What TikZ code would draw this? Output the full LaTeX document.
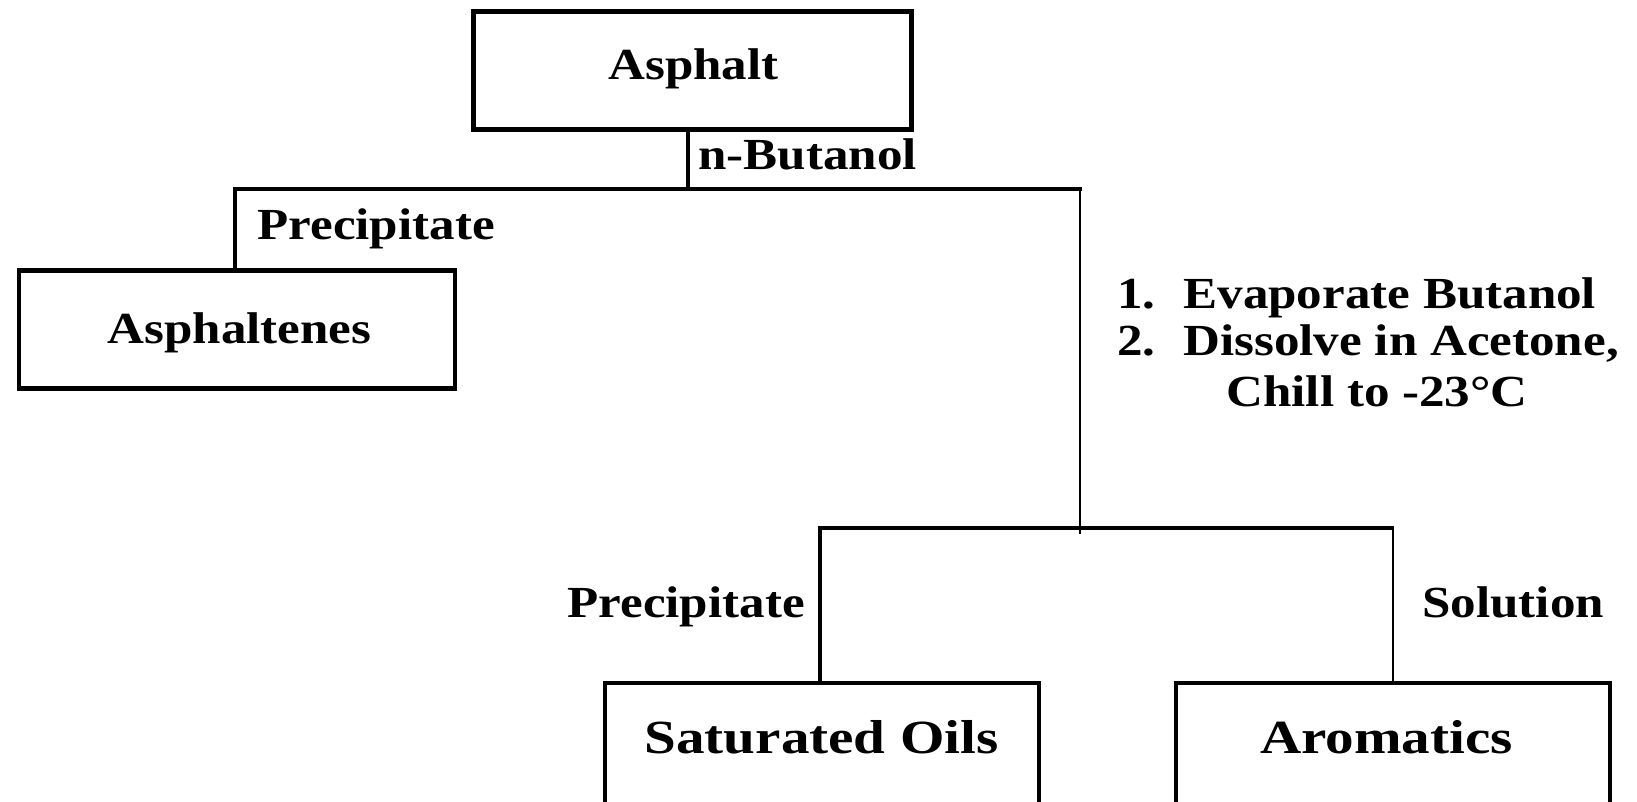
\documentclass[tikz,border=0pt]{standalone}
\usepackage{fontspec}
\setmainfont{Liberation Serif}
\newfontfamily\lblfont[FakeStretch=1.15]{Liberation Serif}
\newfontfamily\biglblfont[FakeStretch=1.2]{Liberation Serif}
\begin{document}
\begin{tikzpicture}[x=0.5pt,y=-0.5pt,
  box/.style={draw=black, line width=2.4pt, rectangle, inner sep=0pt},
  wire/.style={draw=black, line width=2.2pt},
  thinwire/.style={draw=black, line width=1.1pt},
  lbl/.style={inner sep=0pt, font=\lblfont\fontsize{22.2}{26}\selectfont\bfseries},
  biglbl/.style={inner sep=0pt, font=\biglblfont\fontsize{23.8}{28}\selectfont\bfseries}]
\useasboundingbox (0,0) rectangle (1637,802);
\clip (0,0) rectangle (1637,802);

% boxes (sizes in pt: one picture unit is half a point)
\node[box, minimum width=219pt, minimum height=59pt] (asphalt) at (692.5,70.5) {};
\node[box, minimum width=218pt, minimum height=59pt] (asphaltenes) at (237,329.5) {};
\node[box, minimum width=217pt, minimum height=65pt] (saturated) at (822,748) {};
\node[box, minimum width=217pt, minimum height=65pt] (aromatics) at (1393,748) {};

% box texts
\node[lbl, anchor=base] (t-asphalt) at (693.5,80) {Asphalt};
\node[lbl, anchor=base] (t-asphaltenes) at (239.5,343) {Asphaltenes};
\node[biglbl, anchor=base] (t-saturated) at (821.5,753) {Saturated Oils};
\node[biglbl, anchor=base] (t-aromatics) at (1386.5,753) {Aromatics};

% junction points
\coordinate (j-top) at (688,189);
\coordinate (j-left) at (235,189);
\coordinate (j-right) at (1080,189);
\coordinate (j-mid) at (1080,528);
\coordinate (j-sat) at (820,528);
\coordinate (j-aro) at (1393,528);

% connectors
\draw[wire] (asphalt.south -| j-top) -- (j-top);
\draw[wire] ([xshift=-1.1pt]j-left) -- ([xshift=1.1pt]j-right);
\draw[wire] (j-left) -- (asphaltenes.north -| j-left);
\draw[thinwire] (j-right) -- ([yshift=-3pt]j-mid);
\draw[wire] ([xshift=-1.1pt]j-sat) -- ([xshift=0.5pt]j-aro);
\draw[wire] (j-sat) -- (saturated.north -| j-sat);
\draw[thinwire] (j-aro) -- (aromatics.north);

% connector labels
\node[lbl, anchor=base west] (l-butanol) at (698,170) {n-Butanol};
\node[lbl, anchor=base west] (l-prec1) at (257,240) {Precipitate};
\node[lbl, anchor=base west] (l-prec2) at (567,617) {Precipitate};
\node[lbl, anchor=base west] (l-sol) at (1422,617) {Solution};

% processing steps
\node[lbl, anchor=base west] (s1n) at (1117,308) {1.};
\node[lbl, anchor=base west] (s1) at (1183,308) {Evaporate Butanol};
\node[lbl, anchor=base west] (s2n) at (1117,355) {2.};
\node[lbl, anchor=base west] (s2) at (1183,355) {Dissolve in Acetone,};
\node[lbl, anchor=base west] (s3) at (1226,406) {Chill to -23°C};
\end{tikzpicture}
\end{document}
